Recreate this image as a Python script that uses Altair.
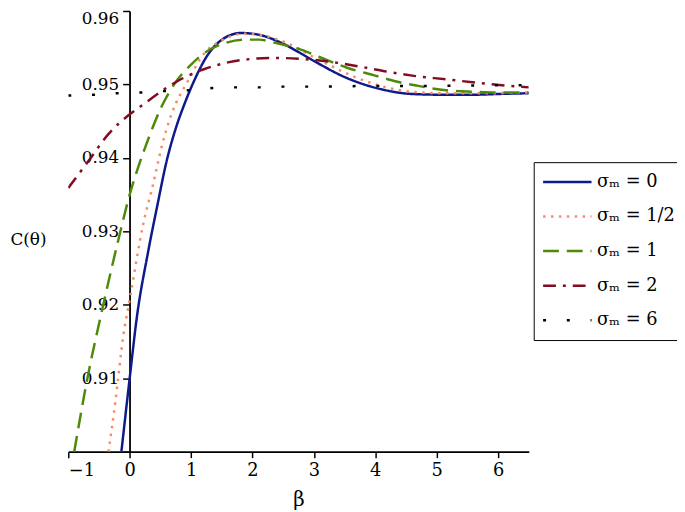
import altair as alt
import pandas as pd

series_names = ["σₘ = 0", "σₘ = 1/2", "σₘ = 1", "σₘ = 2", "σₘ = 6"]
colors = ["#0d1a8c", "#f98a60", "#4e8a0a", "#820d22", "#000000"]
dashes = [[1, 0], [2.5, 5.5], [16, 8], [13, 7, 3, 7], [3, 21]]

x_ticks = [-1, 0, 1, 2, 3, 4, 5, 6]
y_ticks = [0.90, 0.91, 0.92, 0.93, 0.94, 0.95, 0.96]

# sigma_m = 0
s0_x = [-0.135, 0, 0.12, 0.3, 0.45, 0.6, 0.75, 0.9, 1.05, 1.27, 1.54, 1.81, 2.08,
        2.46, 2.73, 3.0, 3.53, 4.07, 4.6, 5.1, 5.6, 6.0, 6.5]
s0_y = [0.900, 0.910, 0.9185, 0.9272, 0.9335, 0.9395, 0.9440, 0.9475, 0.9505, 0.9540,
        0.9563, 0.9570, 0.9568, 0.9557, 0.9545, 0.9532, 0.9509, 0.9494, 0.9487, 0.9486,
        0.9486, 0.9487, 0.9488]
# sigma_m = 1/2
s1_x = [-0.345, -0.23, -0.1, 0, 0.226, 0.387, 0.52, 0.683, 0.95, 1.22, 1.5, 1.85, 2.2,
        2.6, 3.0, 3.26, 3.7, 4.18, 4.6, 5.15, 5.7, 6.5]
s1_y = [0.900, 0.907, 0.916, 0.9207, 0.9312, 0.9366, 0.9415, 0.9460, 0.9505, 0.9543,
        0.9560, 0.9569, 0.9566, 0.9555, 0.9537, 0.9526, 0.9509, 0.9496, 0.9490, 0.9488,
        0.9488, 0.9489]
# sigma_m = 1
s2_x = [-0.903, -0.7, -0.43, -0.18, 0.0, 0.15, 0.3, 0.52, 0.74, 1.0, 1.22, 1.54, 1.86,
        2.1, 2.4, 2.73, 3.1, 3.53, 4.0, 4.34, 4.7, 5.15, 5.6, 6.0, 6.5]
s2_y = [0.900, 0.9095, 0.9200, 0.9290, 0.9350, 0.9390, 0.9425, 0.9470, 0.9502, 0.9527,
        0.9543, 0.9556, 0.9561, 0.9561, 0.9556, 0.9549, 0.9537, 0.9523, 0.9512, 0.9504,
        0.9498, 0.9492, 0.9490, 0.9489, 0.9489]
# sigma_m = 2
s3_x = [-1.0, -0.66, -0.34, -0.02, 0.226, 0.575, 0.79, 1.22, 1.6, 2.03, 2.4, 2.75,
        3.34, 3.77, 4.15, 4.6, 5.15, 5.8, 6.5]
s3_y = [0.9359, 0.9397, 0.9433, 0.9458, 0.9473, 0.9494, 0.9505, 0.9521, 0.9530, 0.9535,
        0.9536, 0.9535, 0.9530, 0.9524, 0.9518, 0.9512, 0.9507, 0.9501, 0.9496]
# sigma_m = 6
s4_x = [-1, -0.58, -0.2, 0.17, 0.575, 0.95, 1.34, 1.72, 2.11, 2.49, 3.0, 4.04, 5.0, 6.0, 6.5]
s4_y = [0.9485, 0.9486, 0.9488, 0.9489, 0.9491, 0.9492, 0.9495, 0.9496, 0.9496, 0.9497,
        0.9497, 0.9498, 0.9498, 0.9499, 0.9499]

frames = []
for name, xs, ys in zip(series_names, [s0_x, s1_x, s2_x, s3_x, s4_x],
                        [s0_y, s1_y, s2_y, s3_y, s4_y]):
    frames.append(pd.DataFrame({"beta": xs, "C": ys, "series": name}))
df = pd.concat(frames, ignore_index=True)

SERIF = "DejaVu Serif"

leg = alt.Legend(
    title=None, orient="none", legendX=471, legendY=153,
    symbolType="stroke", symbolSize=2401, symbolStrokeWidth=2.5,
    clipHeight=24, rowPadding=11, padding=8, strokeColor="black",
    labelFont=SERIF, labelFontSize=18, labelColor="black",
    labelOffset=4, labelLimit=300,
)

chart = alt.Chart(df).mark_line(clip=True, strokeWidth=2.5, interpolate="monotone").encode(
    x=alt.X("beta:Q",
            scale=alt.Scale(domain=[-1, 6.5], nice=False, zero=False),
            axis=alt.Axis(values=x_ticks, title="β", titleFont=SERIF,
                          titleFontSize=20, titleFontWeight="normal", titleColor="black",
                          titlePadding=10, labelPadding=4, tickSize=6,
                          labelFont=SERIF, labelFontSize=18)),
    y=alt.Y("C:Q",
            scale=alt.Scale(domain=[0.90, 0.96], nice=False, zero=False),
            axis=alt.Axis(values=y_ticks, format=".2f",
                          labelExpr="datum.value < 0.905 ? '' : datum.label",
                          labelFlush=True, labelFlushOffset=0,
                          offset=-62, title="C(θ)", titleAngle=0, titleX=-121, titleY=231,
                          titleAlign="left", titleBaseline="middle",
                          titleFont=SERIF, titleFontSize=17,
                          titleFontWeight="normal", titleColor="black",
                          labelPadding=4, tickSize=7, labelFont=SERIF,
                          labelFontSize=17)),
    color=alt.Color("series:N", scale=alt.Scale(domain=series_names, range=colors), legend=leg),
    strokeDash=alt.StrokeDash("series:N", scale=alt.Scale(domain=series_names, range=dashes),
                              legend=leg),
).properties(
    width=466, height=446,
    autosize=alt.AutoSizeParams(type="none"),
    padding={"left": 61, "top": 0, "right": 150, "bottom": 58},
).configure_view(
    stroke=None
).configure_axis(
    grid=False, domainColor="black", domainWidth=1.8, tickColor="black", tickWidth=1.5,
    labelColor="black",
)

chart.save("out.html", embed_options={"renderer": "svg", "actions": False})
